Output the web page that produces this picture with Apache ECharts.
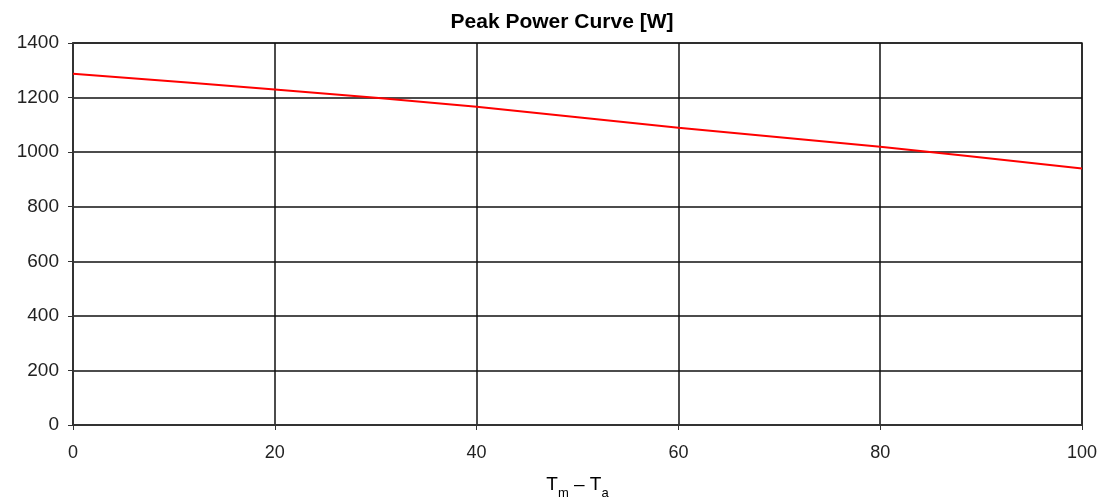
<!DOCTYPE html>
<html style="height: 100%">
<head>
<meta charset="utf-8">
</head>
<body style="height: 100%; margin: 0; background: #fff">
	<div id="container" style="width: 1099px; height: 500px"></div>
	<script type="text/javascript" src="https://cdn.jsdelivr.net/npm/echarts/dist/echarts.min.js"></script>
	<script type="text/javascript">
		// temperature difference Tm - Ta
		var tempDiff = [ 0, 20, 40, 60, 80, 100 ];
		// peak power [W]
		var peakPower = [ 1287, 1230, 1166, 1089, 1020, 940 ];
		var xTicks = [ 0, 20, 40, 60, 80, 100 ];
		var yTicks = [ 0, 200, 400, 600, 800, 1000, 1200, 1400 ];

		var dom = document.getElementById("container");
		var myChart = echarts.init(dom);
		var data = [];
		for (var i = 0; i < tempDiff.length; i++) {
			data.push([ tempDiff[i], peakPower[i] ]);
		}
		var labelFont = 'Liberation Sans, Arial, sans-serif';
		option = {
			backgroundColor : '#fff',
			animation : false,
			title : {
				text : 'Peak Power Curve [W]',
				left : 557,
				top : 7,
				textAlign : 'center',
				textStyle : {
					fontFamily : labelFont,
					fontWeight : 'bold',
					fontSize : 21,
					color : '#000'
				}
			},
			grid : {
				left : 73,
				right : 17,
				top : 43,
				bottom : 75,
				outerBoundsMode : 'none',
				containLabel : false,
				show : true,
				borderColor : '#888',
				borderWidth : 2,
				backgroundColor : '#fff'
			},
			xAxis : {
				type : 'value',
				min : xTicks[0],
				max : xTicks[xTicks.length - 1],
				interval : 20,
				name : '{t|T}{s|m}{t| – T}{s|a}',
				nameLocation : 'middle',
				nameGap : 50,
				nameTextStyle : {
					rich : {
						t : {
							fontFamily : labelFont,
							fontSize : 19,
							color : '#000',
							verticalAlign : 'bottom'
						},
						s : {
							fontFamily : labelFont,
							fontSize : 13,
							color : '#000',
							padding : [ 0, 0, -6, 0 ],
							verticalAlign : 'bottom'
						}
					}
				},
				axisLine : {
					lineStyle : {
						color : '#333',
						width : 2
					}
				},
				axisTick : {
					show : true,
					length : 5,
					lineStyle : {
						color : '#333'
					}
				},
				axisLabel : {
					fontFamily : labelFont,
					fontSize : 18,
					color : '#222',
					margin : 19
				},
				splitLine : {
					show : true,
					lineStyle : {
						color : '#111',
						width : 1.5
					}
				}
			},
			yAxis : {
				type : 'value',
				min : yTicks[0],
				max : yTicks[yTicks.length - 1],
				interval : 200,
				axisLine : {
					show : true,
					lineStyle : {
						color : '#333',
						width : 2
					}
				},
				axisTick : {
					show : true,
					length : 5,
					lineStyle : {
						color : '#333'
					}
				},
				axisLabel : {
					fontFamily : labelFont,
					fontSize : 19,
					color : '#222',
					margin : 14,
					formatter : function(v) {
						return String(v);
					}
				},
				splitLine : {
					show : true,
					lineStyle : {
						color : '#111',
						width : 1.5
					}
				}
			},
			series : [ {
				name : 'Peak Power',
				type : 'line',
				smooth : 0.3,
				showSymbol : false,
				lineStyle : {
					color : '#ff0000',
					width : 2
				},
				data : data
			} ]
		};
		myChart.setOption(option);
	</script>
</body>
</html>
